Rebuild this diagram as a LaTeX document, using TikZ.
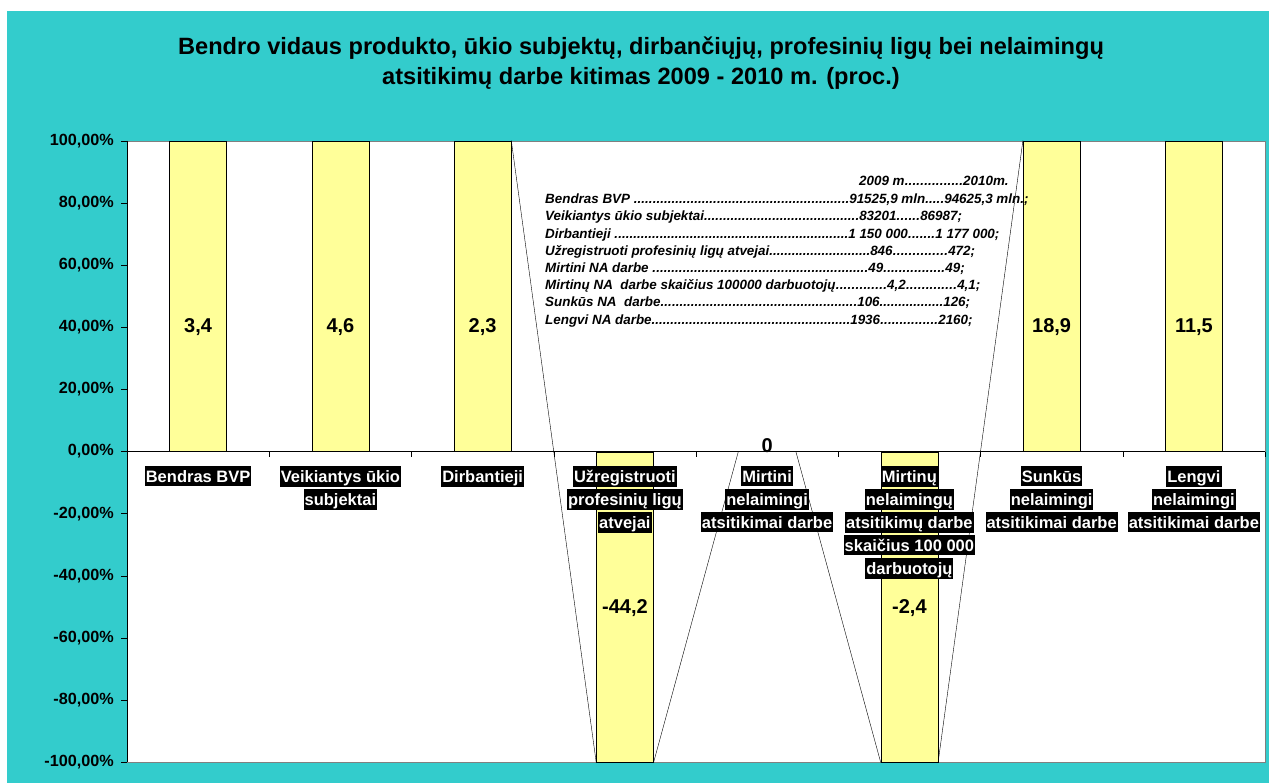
\documentclass[tikz,border=0pt]{standalone}
\usepackage{fontspec}
\setmainfont{Liberation Sans}
\usepackage{tikz}
\definecolor{chartteal}{RGB}{51,204,204}
\definecolor{baryellow}{RGB}{255,255,153}
\definecolor{plotgray}{RGB}{128,128,128}
\tikzstyle{colbar} = [draw=black, thin, rectangle, fill=baryellow, minimum width=57pt, minimum height=310.5pt, inner sep=0pt]
\tikzstyle{vallabel} = [inner sep=0pt, font=\fontsize{20}{24}\selectfont\bfseries]
\tikzstyle{catlabel} = [anchor=north, align=center, inner sep=0pt, font=\fontsize{16.5}{23}\selectfont\bfseries]
\tikzstyle{ticklabel} = [anchor=east, inner sep=0pt, font=\fontsize{16.2}{18}\selectfont\bfseries]
\tikzstyle{narow} = [anchor=base west, inner sep=0pt, font=\fontsize{13.4}{16}\selectfont\bfseries\itshape]
\tikzstyle{charttitle} = [align=center, inner sep=0pt, font=\fontsize{23.6}{30}\selectfont\bfseries]
% white text on black strip, one per line
\newcommand{\hl}[1]{{\setlength{\fboxsep}{1pt}\colorbox{black}{\rule[-3pt]{0pt}{18pt}\textcolor{white}{#1}}}}
% label, start of 1st value, 1st value, start of 2nd value, 2nd value
\newcommand{\dotrow}[5]{\hbox to \dimexpr#2pt-545pt\relax{#1\xleaders\hbox{.}\hfill}\hbox to \dimexpr#4pt-#2pt\relax{#3\xleaders\hbox{.}\hfill}#5}

\begin{document}
\begin{tikzpicture}[x=1pt, y=-1pt]
    \useasboundingbox (0,0) rectangle (1269,783);
    \fill[white] (0,0) rectangle (1269,783);
    \fill[chartteal] (7,11) rectangle (1269,783);

    \node [charttitle] (title) at (641,63) {Bendro vidaus produkto, ūkio subjektų, dirbančiųjų, profesinių ligų bei nelaimingų\\atsitikimų darbe kitimas 2009 - 2010 m. (proc.)};

    % plot area
    \filldraw [fill=white, draw=plotgray] (127,141) rectangle (1265,762);

    % bars
    \node [colbar, anchor=south] (b1) at (198.1,451.5) {};
    \node [colbar, anchor=south] (b2) at (340.4,451.5) {};
    \node [colbar, anchor=south] (b3) at (482.6,451.5) {};
    \node [colbar, anchor=north] (b4) at (624.9,451.5) {};
    \node [inner sep=0pt, minimum width=57pt, minimum height=0pt] (b5) at (767.1,451.5) {};
    \node [colbar, anchor=north] (b6) at (909.4,451.5) {};
    \node [colbar, anchor=south] (b7) at (1051.6,451.5) {};
    \node [colbar, anchor=south] (b8) at (1193.9,451.5) {};

    % series lines
    \draw (b3.north east) -- (b4.south west);
    \draw (b4.south east) -- (b5.north west);
    \draw (b5.north east) -- (b6.south west);
    \draw (b6.south east) -- (b7.north west);

    % axes
    \draw (127,141) -- (127,762);
    \draw (127,451.5) -- (1265,451.5);
    \foreach \k in {1,...,8}
        \draw (127+142.25*\k,451.5) -- (127+142.25*\k,457);
    \foreach \p [count=\i] in {100,80,...,-100} {
        \draw (121,451.5-3.105*\p) -- (127,451.5-3.105*\p);
        \node [ticklabel] (ytick\i) at (114,451.5-3.105*\p) {\p,00\%};
    }

    % values
    \node [vallabel] (v1) at (198.1,327) {3,4};
    \node [vallabel] (v2) at (340.4,327) {4,6};
    \node [vallabel] (v3) at (482.6,327) {2,3};
    \node [vallabel] (v4) at (624.9,608) {-44,2};
    \node [vallabel] (v5) at (767.1,446) {0};
    \node [vallabel] (v6) at (909.4,608) {-2,4};
    \node [vallabel] (v7) at (1051.6,327) {18,9};
    \node [vallabel] (v8) at (1193.9,327) {11,5};

    % categories
    \node [catlabel] (c1) at (198.1,466) {\hl{Bendras BVP}};
    \node [catlabel] (c2) at (340.4,466) {\hl{Veikiantys ūkio}\\\hl{subjektai}};
    \node [catlabel] (c3) at (482.6,466) {\hl{Dirbantieji}};
    \node [catlabel] (c4) at (624.9,466) {\hl{Užregistruoti}\\\hl{profesinių ligų}\\\hl{atvejai}};
    \node [catlabel] (c5) at (767.1,466) {\hl{Mirtini}\\\hl{nelaimingi}\\\hl{atsitikimai darbe}};
    \node [catlabel] (c6) at (909.4,466) {\hl{Mirtinų}\\\hl{nelaimingų}\\\hl{atsitikimų darbe}\\\hl{skaičius 100 000}\\\hl{darbuotojų}};
    \node [catlabel] (c7) at (1051.6,466) {\hl{Sunkūs}\\\hl{nelaimingi}\\\hl{atsitikimai darbe}};
    \node [catlabel] (c8) at (1193.9,466) {\hl{Lengvi}\\\hl{nelaimingi}\\\hl{atsitikimai darbe}};

    % data text
    \node [narow] (nahead) at (859,185.8) {\hbox to 104pt{2009 m\xleaders\hbox{.}\hfill}2010m.};
    \node [narow] (na1) at (545,203.8) {\dotrow{Bendras BVP }{849}{91525,9 mln}{944}{94625,3 mln.;}};
    \node [narow] (na2) at (545,221) {\dotrow{Veikiantys ūkio subjektai}{859}{83201}{920}{86987;}};
    \node [narow] (na3) at (545,238.2) {\dotrow{Dirbantieji }{848}{1 150 000}{935}{1 177 000;}};
    \node [narow] (na4) at (545,255.4) {\dotrow{Užregistruoti profesinių ligų atvejai}{870}{846}{948}{472;}};
    \node [narow] (na5) at (545,272.6) {\dotrow{Mirtini NA darbe }{868}{49}{945}{49;}};
    \node [narow] (na6) at (545,289.8) {\dotrow{Mirtinų NA\ \ darbe skaičius 100000 darbuotojų}{887}{4,2}{957}{4,1;}};
    \node [narow] (na7) at (545,307) {\dotrow{Sunkūs NA\ \ darbe}{857}{106}{943}{126;}};
    \node [narow] (na8) at (545,324.2) {\dotrow{Lengvi NA darbe}{850}{1936}{938}{2160;}};
\end{tikzpicture}
\end{document}
